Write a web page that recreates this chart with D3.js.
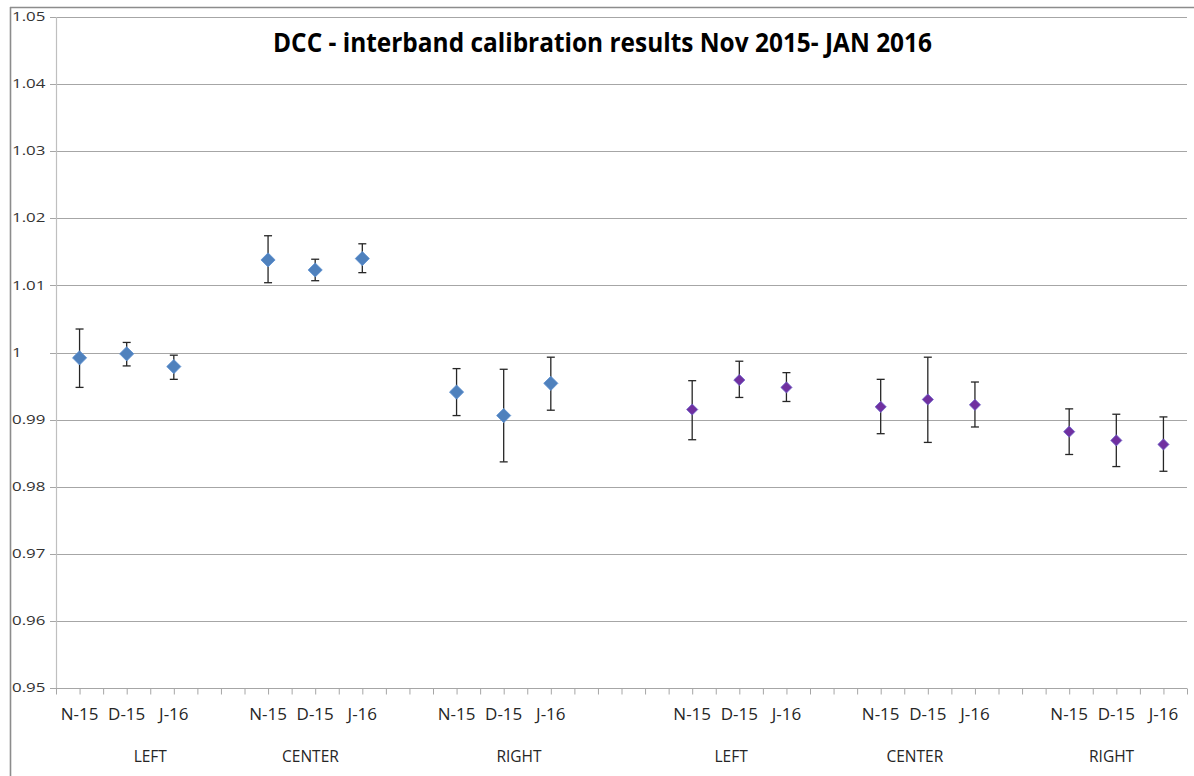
<!DOCTYPE html>
<html><head><meta charset="utf-8">
<script src="https://cdn.jsdelivr.net/npm/d3@7"></script>
<style>body{margin:0;background:#fff}svg{display:block}</style>
</head><body>
<svg id="c" width="1194" height="776"></svg>
<script>
// ---- data ----
const title = "DCC - interband calibration results Nov 2015- JAN 2016";
const groups = ["LEFT","CENTER","RIGHT","LEFT","CENTER","RIGHT"];
const groupSlotCenters = [4, 10.8, 19.65, 28.65, 36.45, 44.8];
const months = ["N-15","D-15","J-16"];
const slots = [1,3,5, 9,11,13, 17,19,21, 27,29,31, 35,37,39, 43,45,47];
const series = [0,0,0, 0,0,0, 0,0,0, 1,1,1, 1,1,1, 1,1,1];
const values = [0.9992,0.9998,0.9979, 1.0138,1.0123,1.0140, 0.9941,0.9906,0.9954,
                0.9915,0.9959,0.9948, 0.9919,0.9930,0.9922, 0.9882,0.9869,0.9863];
const errUpper = [1.0035,1.0015,0.9996, 1.0174,1.0139,1.0162, 0.9976,0.9975,0.9993,
                  0.9958,0.9987,0.9970, 0.9960,0.9993,0.9956, 0.9916,0.9908,0.9904];
const errLower = [0.9948,0.9980,0.9960, 1.0104,1.0107,1.0119, 0.9906,0.9837,0.9914,
                  0.9870,0.9933,0.9927, 0.9879,0.9866,0.9889, 0.9848,0.9830,0.9823];
const yTicks = [0.95,0.96,0.97,0.98,0.99,1.00,1.01,1.02,1.03,1.04,1.05];
const nSlots = 48;

// ---- styles ----
const colors = ["#4F81BD","#7030A0"];
const strokes = ["#5b8fd0","#6f62c9"];
const sizes = [100, 62];

const svg = d3.select("#c");
const L = 56, R = 1187, T = 17, B = 688;
const x = d3.scalePoint().domain(d3.range(nSlots+1)).range([L,R]);
const xl = d3.scaleLinear().domain([0,nSlots]).range([L,R]);
const y = d3.scaleLinear().domain([0.95,1.05]).range([B,T]);

// frame
svg.append("line").attr("x1",10).attr("x2",1194).attr("y1",7.5).attr("y2",7.5).attr("stroke","#8c8c8c").attr("stroke-width",1.6);
svg.append("line").attr("x1",10.5).attr("x2",10.5).attr("y1",7).attr("y2",776).attr("stroke","#8c8c8c").attr("stroke-width",1.6);

// gridlines
svg.append("g").selectAll("line").data(yTicks).join("line")
  .attr("x1",50).attr("x2",R).attr("y1",d=>Math.round(y(d))+0.5).attr("y2",d=>Math.round(y(d))+0.5)
  .attr("stroke","#a6a6a6").attr("stroke-width",1);

// y axis line
svg.append("line").attr("x1",L+0.5).attr("x2",L+0.5).attr("y1",T).attr("y2",B).attr("stroke","#bfbfbf").attr("stroke-width",1.2);

// y labels
svg.append("g").selectAll("text").data(yTicks).join("text")
  .attr("x",12).attr("y",d=>y(d)+0.5).attr("dominant-baseline","middle")
  .attr("font-family","Open Sans").attr("font-size",13.5).attr("fill","#333")
  .text(d=>d3.format(".2f")(d).replace(/\.?0+$/,""))
  .each(function(){const w=this.getComputedTextLength();d3.select(this).attr("textLength",w*1.25).attr("lengthAdjust","spacingAndGlyphs");});

// x axis ticks
const xAxis = d3.axisBottom(x).tickValues(d3.range(nSlots+1)).tickSize(6).tickFormat("");
const gx = svg.append("g").attr("transform",`translate(0,${Math.round(B)+0.5})`).call(xAxis);
gx.select(".domain").attr("stroke","#a6a6a6").attr("d",`M${L},0H${R}`);
gx.selectAll(".tick line").attr("stroke","#a6a6a6");

// month labels
svg.append("g").selectAll("text").data(slots).join("text")
  .attr("x",d=>x(d)).attr("y",720).attr("text-anchor","middle")
  .attr("font-family","Open Sans").attr("font-size",17).attr("fill","#262626")
  .text((d,i)=>months[i%3]);

// group labels
svg.append("g").selectAll("text").data(groups).join("text")
  .attr("x",(d,i)=>xl(groupSlotCenters[i])).attr("y",762).attr("text-anchor","middle")
  .attr("font-family","Open Sans").attr("font-size",15.5).attr("fill","#262626")
  .text(d=>d);

// title
svg.append("text").attr("x",602.5).attr("y",51.5).attr("text-anchor","middle")
  .attr("font-family","Open Sans").attr("font-weight","bold").attr("font-size",27).attr("fill","#000")
  .attr("textLength",659).attr("lengthAdjust","spacingAndGlyphs").text(title);

// error bars
const eb = svg.append("g").attr("stroke","#262626").attr("stroke-width",1.3);
slots.forEach((s,i)=>{
  const cx = x(s);
  eb.append("line").attr("x1",cx).attr("x2",cx).attr("y1",y(errUpper[i])).attr("y2",y(errLower[i]));
  eb.append("line").attr("x1",cx-4).attr("x2",cx+4).attr("y1",y(errUpper[i])).attr("y2",y(errUpper[i]));
  eb.append("line").attr("x1",cx-4).attr("x2",cx+4).attr("y1",y(errLower[i])).attr("y2",y(errLower[i]));
});

// markers
svg.append("g").selectAll("path").data(slots).join("path")
  .attr("d",(d,i)=>d3.symbol(d3.symbolSquare, sizes[series[i]])())
  .attr("transform",(d,i)=>`translate(${x(d)},${y(values[i])}) rotate(45)`)
  .attr("fill",(d,i)=>colors[series[i]])
  .attr("stroke",(d,i)=>strokes[series[i]]).attr("stroke-width",0.8);
</script>
</body></html>
